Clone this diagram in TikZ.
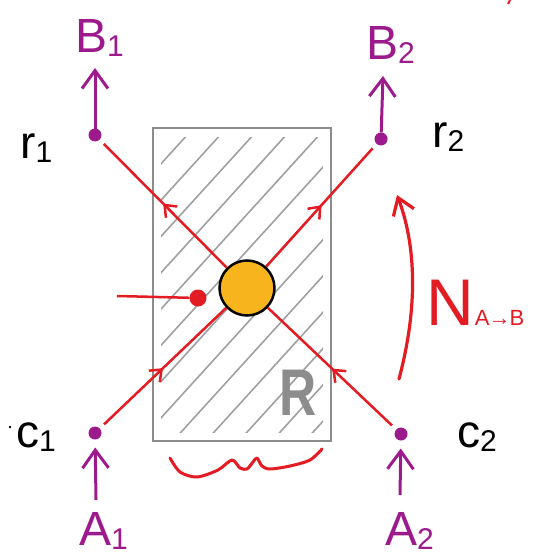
\documentclass[tikz,border=0pt]{standalone}
\usepackage{fontspec}
\setmainfont{Liberation Sans}
\usetikzlibrary{arrows.meta,decorations.markings}
\definecolor{pur}{HTML}{9C1A8C}
\definecolor{rd}{HTML}{E31B23}
\definecolor{orng}{HTML}{F8B41C}
\definecolor{gborder}{HTML}{8C8C8C}
\definecolor{hatchc}{HTML}{A0A0A0}
\newcommand\mysub[1]{\raisebox{-4pt}{\fontsize{30}{30}\selectfont #1}}
\begin{document}
\begin{tikzpicture}[x=1pt,y=-1pt,
 dotnode/.style={circle,fill=pur,inner sep=0,minimum size=13pt,outer sep=0},
 plab/.style={text=pur,inner sep=0,anchor=base west,font=\fontsize{48}{48}\selectfont},
 blab/.style={text=black,inner sep=0,anchor=base west,font=\fontsize{46}{46}\selectfont},
 parrow/.style={pur,line width=3pt,-{Straight Barb[length=18pt,width=26pt,line width=3pt]}},
 ray/.style={rd,line width=2.5pt,postaction={decorate},
   decoration={markings,mark=at position 0.5 with {\arrow{Straight Barb[length=10pt,width=16pt,line width=2.5pt]}}}},
 curvearrow/.style={rd,line width=3.2pt,line cap=round,-{Straight Barb[length=16pt,width=22pt,line width=3.2pt]}},
]
\useasboundingbox (0,0) rectangle (534,559);

% region R
\node[draw=gborder,line width=2.5pt,fill=white,minimum width=178pt,minimum height=313pt,inner sep=0] (R) at (242,284.5) {};
\begin{scope}
  \clip (161,137) rectangle (323,432);
  \foreach \c in {120,153,...,760}
    \draw[hatchc,line width=1.6pt] (\c,100) -- ++(-400,440);
\end{scope}
\node[text=gborder,font=\fontsize{66}{66}\selectfont\bfseries,xscale=0.78,inner sep=0] (Rlab) at (298,393) {R};

% dots
\node[dotnode] (r1) at (95,135) {};
\node[dotnode] (r2) at (381,139) {};
\node[dotnode] (c1) at (95,433) {};
\node[dotnode] (c2) at (401,434) {};

% central particle
\node[circle,draw=black,line width=2.5pt,fill=orng,minimum size=55pt,inner sep=0] (O) at (247,288) {};

% rays
\draw[ray,shorten >=6pt] (O) -- (r1);
\draw[ray,shorten >=6pt] (O) -- (r2);
\draw[ray,shorten <=6pt] (c1) -- (O);
\draw[ray,shorten <=6pt] (c2) -- (O);

% incoming hit
\node[circle,fill=rd,inner sep=0,minimum size=17pt] (hit) at (198,298) {};
\coordinate (hin) at (117,296);
\draw[rd,line width=2.5pt] (hin) -- (hit);

% labels
\node[plab] (B1) at (75,53) {B\mysub{1}};
\node[plab] (B2) at (366,60) {B\mysub{2}};
\node[plab] (A1) at (79,545) {A\mysub{1}};
\node[plab] (A2) at (385,545) {A\mysub{2}};
\node[blab] (r1l) at (20,158) {r\mysub{1}};
\node[blab] (r2l) at (432,147) {r\mysub{2}};
\node[blab] (c1l) at (16,447) {c\mysub{1}};
\node[blab] (c2l) at (457,447) {c\mysub{2}};
\node[text=rd,inner sep=0,anchor=base west,font=\fontsize{66}{66}\selectfont] (N) at (426,325) {N\kern1pt\fontsize{22}{22}\selectfont A\kern-1pt→\kern-1ptB};

% purple arrows
\coordinate (tb1) at (95,68);
\coordinate (tb2) at (383,76);
\coordinate (sa1) at (96,500);
\coordinate (sa2) at (400,495);
\draw[parrow] (r1) -- (tb1);
\draw[parrow] (r2) -- (tb2);
\draw[parrow,shorten >=8pt] (sa1) -- (c1);
\draw[parrow,shorten >=8pt] (sa2) -- (c2);

% N arrow
\coordinate (nb) at (399,379);
\coordinate (nt) at (397,195);
\draw[curvearrow] (nb) .. controls (420,300) and (414,240) .. (nt);

% brace under R
\draw[rd,line width=3pt,line cap=round,line join=round] plot[smooth,tension=0.5] coordinates
 {(170,458) (180,472) (197,477) (218,470) (232,460) (240,468) (247,469) (253,462) (257,458) (262,466) (270,469) (290,466) (310,460) (322,449)};

% stray marks
\fill (10,427) circle (1.3pt);
\draw[rd,line width=2pt] (510,0) -- (508,4);
\end{tikzpicture}
\end{document}
